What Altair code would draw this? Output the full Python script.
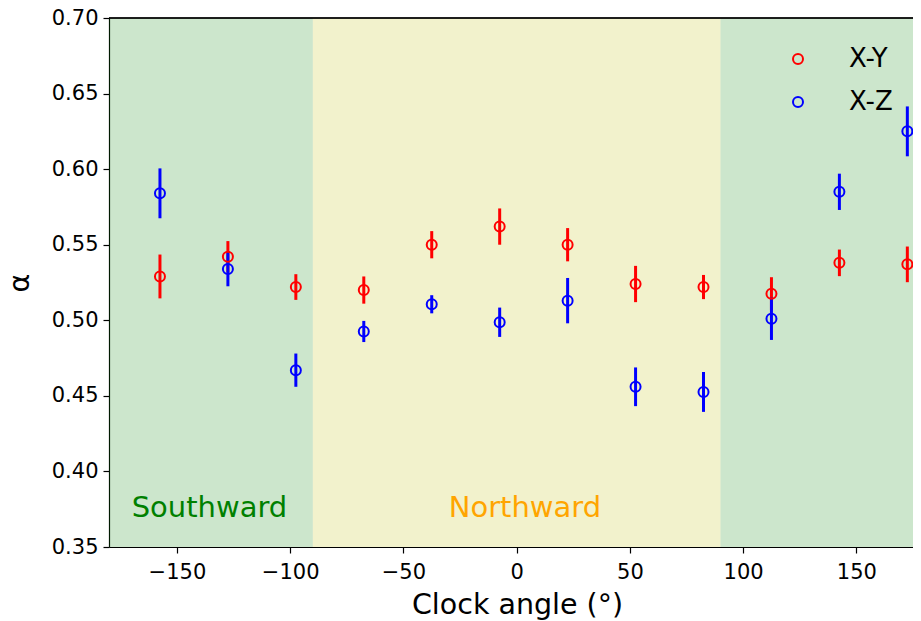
import altair as alt
import pandas as pd

# ---- data ----
angles = [-157.5, -127.5, -97.5, -67.5, -37.5, -7.5, 22.5, 52.5, 82.5, 112.5, 142.5, 172.5]
xy_vals = [0.529, 0.542, 0.522, 0.520, 0.550, 0.562, 0.550, 0.524, 0.522, 0.5175, 0.538, 0.537]
xy_errs = [0.0145, 0.0104, 0.0085, 0.009, 0.009, 0.012, 0.011, 0.012, 0.008, 0.011, 0.0088, 0.0118]
xz_vals = [0.584, 0.534, 0.467, 0.4926, 0.5106, 0.4987, 0.513, 0.456, 0.4526, 0.501, 0.585, 0.625]
xz_errs = [0.0165, 0.0115, 0.011, 0.007, 0.006, 0.0097, 0.015, 0.0128, 0.0132, 0.014, 0.012, 0.0165]
series_names = ["X-Y", "X-Z"]
series_colors = ["#ff0000", "#0000ff"]

band_start = [-180, -90, 90]
band_end = [-90, 90, 180]
band_colors = ["#008000", "#bfbf00", "#008000"]

note_text = ["Southward", "Northward"]
note_x = [-170, -30]
note_y = [0.37, 0.37]
note_colors = ["#008000", "#ffa500"]

x_ticks = [-150, -100, -50, 0, 50, 100, 150]
y_ticks = [0.35, 0.40, 0.45, 0.50, 0.55, 0.60, 0.65, 0.70]

# ---- tables ----
rows = []
for name, vals, errs in [("X-Y", xy_vals, xy_errs), ("X-Z", xz_vals, xz_errs)]:
    for a, v, e in zip(angles, vals, errs):
        rows.append({"angle": a, "alpha": v, "err": e, "series": name})
df = pd.DataFrame(rows)
bands = pd.DataFrame({"x0": band_start, "x1": band_end, "c": band_colors})
notes = pd.DataFrame({"x": note_x, "y": note_y, "t": note_text, "c": note_colors})

W, H = 804, 529
FONT = "DejaVu Sans"

xscale = alt.Scale(domain=[-180, 175.0], nice=False, zero=False)
yscale = alt.Scale(domain=[0.35, 0.70], nice=False, zero=False)

xaxis = alt.Axis(values=x_ticks, title="Clock angle (°)", grid=False,
                 labelFontSize=21, titleFontSize=28.5, labelPadding=8,
                 tickSize=6, labelFlush=False,
                 titleBaseline="alphabetic", titleY=66, titleX=408,
                 titleAlign="center")
yaxis = alt.Axis(values=y_ticks, format=".2f", title="α", grid=False,
                 labelFontSize=21, titleFontSize=28.5, labelPadding=5,
                 tickSize=6, titleBaseline="alphabetic", titleX=-81,
                 titleY=H / 2, titleAlign="center", titleAngle=270)

band_layer = alt.Chart(bands).mark_rect(opacity=0.2, clip=True).encode(
    x=alt.X("x0:Q", scale=xscale, axis=xaxis),
    x2="x1:Q",
    y=alt.value(0),
    y2=alt.value(H),
    fill=alt.Fill("c:N", scale=None),
)

note_layer = alt.Chart(notes).mark_text(
    align="left", baseline="alphabetic", fontSize=29, font=FONT
).encode(
    x=alt.X("x:Q", scale=xscale),
    y=alt.Y("y:Q", scale=yscale),
    text="t:N",
    color=alt.Color("c:N", scale=None),
)

err_layer = alt.Chart(df).transform_calculate(
    lo="datum.alpha - datum.err", hi="datum.alpha + datum.err"
).mark_rule(strokeWidth=3, clip=True).encode(
    x=alt.X("angle:Q", scale=xscale),
    y=alt.Y("lo:Q", scale=yscale),
    y2="hi:Q",
    stroke=alt.Stroke("series:N", scale=alt.Scale(domain=series_names, range=series_colors),
                      legend=None),
    detail="series:N",
)

pt_layer = alt.Chart(df).mark_point(
    shape="circle", filled=False, size=100, strokeWidth=2, opacity=1, clip=True
).encode(
    x=alt.X("angle:Q", scale=xscale),
    y=alt.Y("alpha:Q", scale=yscale, axis=yaxis),
    color=alt.Color(
        "series:N", scale=alt.Scale(domain=series_names, range=series_colors),
        legend=alt.Legend(
            title=None, orient="none", legendX=676, legendY=28,
            symbolType="circle", symbolSize=100, symbolStrokeWidth=2,
            symbolFillColor="transparent",
            labelFontSize=26, labelFont=FONT, labelColor="black",
            labelOffset=38, rowPadding=17, padding=0,
        ),
    ),
)

top_rule = alt.Chart(bands).mark_rule(color="black", strokeWidth=1.2).encode(
    x=alt.value(0), x2=alt.value(W), y=alt.value(0)
)

chart = alt.layer(band_layer, note_layer, err_layer, pt_layer, top_rule).properties(
    width=W, height=H,
    background="white",
    autosize=alt.AutoSizeParams(type="none"),
    padding={"left": 101, "top": 10, "right": 0, "bottom": 74},
).configure_view(stroke=None).configure_axis(
    domainColor="black", tickColor="black", labelColor="black", titleColor="black",
    labelFont=FONT, titleFont=FONT, titleFontWeight="normal", domainWidth=1.2, tickWidth=1.2,
)

chart.save("out.html", embed_options={"renderer": "svg", "actions": False})
